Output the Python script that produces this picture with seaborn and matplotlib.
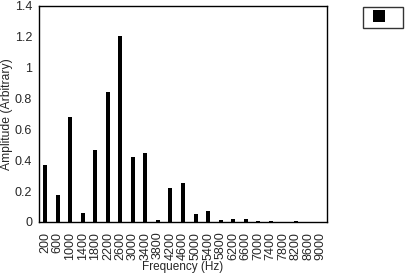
import matplotlib
matplotlib.use("Agg")
import matplotlib.pyplot as plt
import seaborn as sns
import pandas as pd
from matplotlib.lines import Line2D

freqs = [200, 600, 1000, 1400, 1800, 2200, 2600, 3000, 3400, 3800, 4200, 4600,
         5000, 5400, 5800, 6200, 6600, 7000, 7400, 7800, 8200, 8600, 9000]
amplitudes = [0.37, 0.175, 0.68, 0.06, 0.465, 0.84, 1.205, 0.42, 0.445, 0.013,
              0.22, 0.255, 0.054, 0.073, 0.014, 0.02, 0.021, 0.008, 0.008, 0.0,
              0.006, 0.0, 0.0]
yticks = [0, 0.2, 0.4, 0.6, 0.8, 1, 1.2, 1.4]
ytick_labels = ["0", "0.2", "0.4", "0.6", "0.8", "1", "1.2", "1.4"]

df = pd.DataFrame({"freq": [str(f) for f in freqs], "amp": amplitudes})

sns.set_style("white")
plt.rcParams["font.family"] = ["Liberation Sans", "DejaVu Sans"]

fig = plt.figure(figsize=(4.06, 2.74), dpi=100)
ax = fig.add_axes([39 / 406, 1 - 222 / 274, 288 / 406, 216 / 274])
sns.barplot(data=df, x="freq", y="amp", color="black", width=0.32,
            saturation=1, ax=ax, edgecolor="none")
ax.set_ylim(0, 1.4)
ax.set_xlim(-0.5, len(freqs) - 0.5)
ax.set_yticks(yticks)
ax.set_yticklabels(ytick_labels, fontsize=9)
ax.set_xticks(range(len(freqs)))
ax.set_xticklabels([str(f) for f in freqs], rotation=90, fontsize=9)
ax.tick_params(axis="both", length=0)
ax.tick_params(axis="y", pad=5)
ax.tick_params(axis="x", pad=7)
ax.set_xlabel("Frequency (Hz)", fontsize=8.5, labelpad=1)
ax.set_ylabel("Amplitude (Arbitrary)", fontsize=8.7, labelpad=1.5)
for s in ax.spines.values():
    s.set_visible(True)
    s.set_color("black")
    s.set_linewidth(1)

handle = Line2D([], [], marker="s", linestyle="none", color="black",
                markersize=8.6, markeredgewidth=0)
leg = fig.legend(handles=[handle], labels=[" "],
                 loc="upper left", bbox_to_anchor=(363 / 406, 1 - 7 / 274),
                 frameon=True, fancybox=False, fontsize=9,
                 handlelength=2.0, handleheight=0.96, borderpad=0.32,
                 handletextpad=0.28, borderaxespad=0)
leg.get_frame().set_edgecolor("black")
leg.get_frame().set_linewidth(1)

fig.savefig("out.png", dpi=100)
